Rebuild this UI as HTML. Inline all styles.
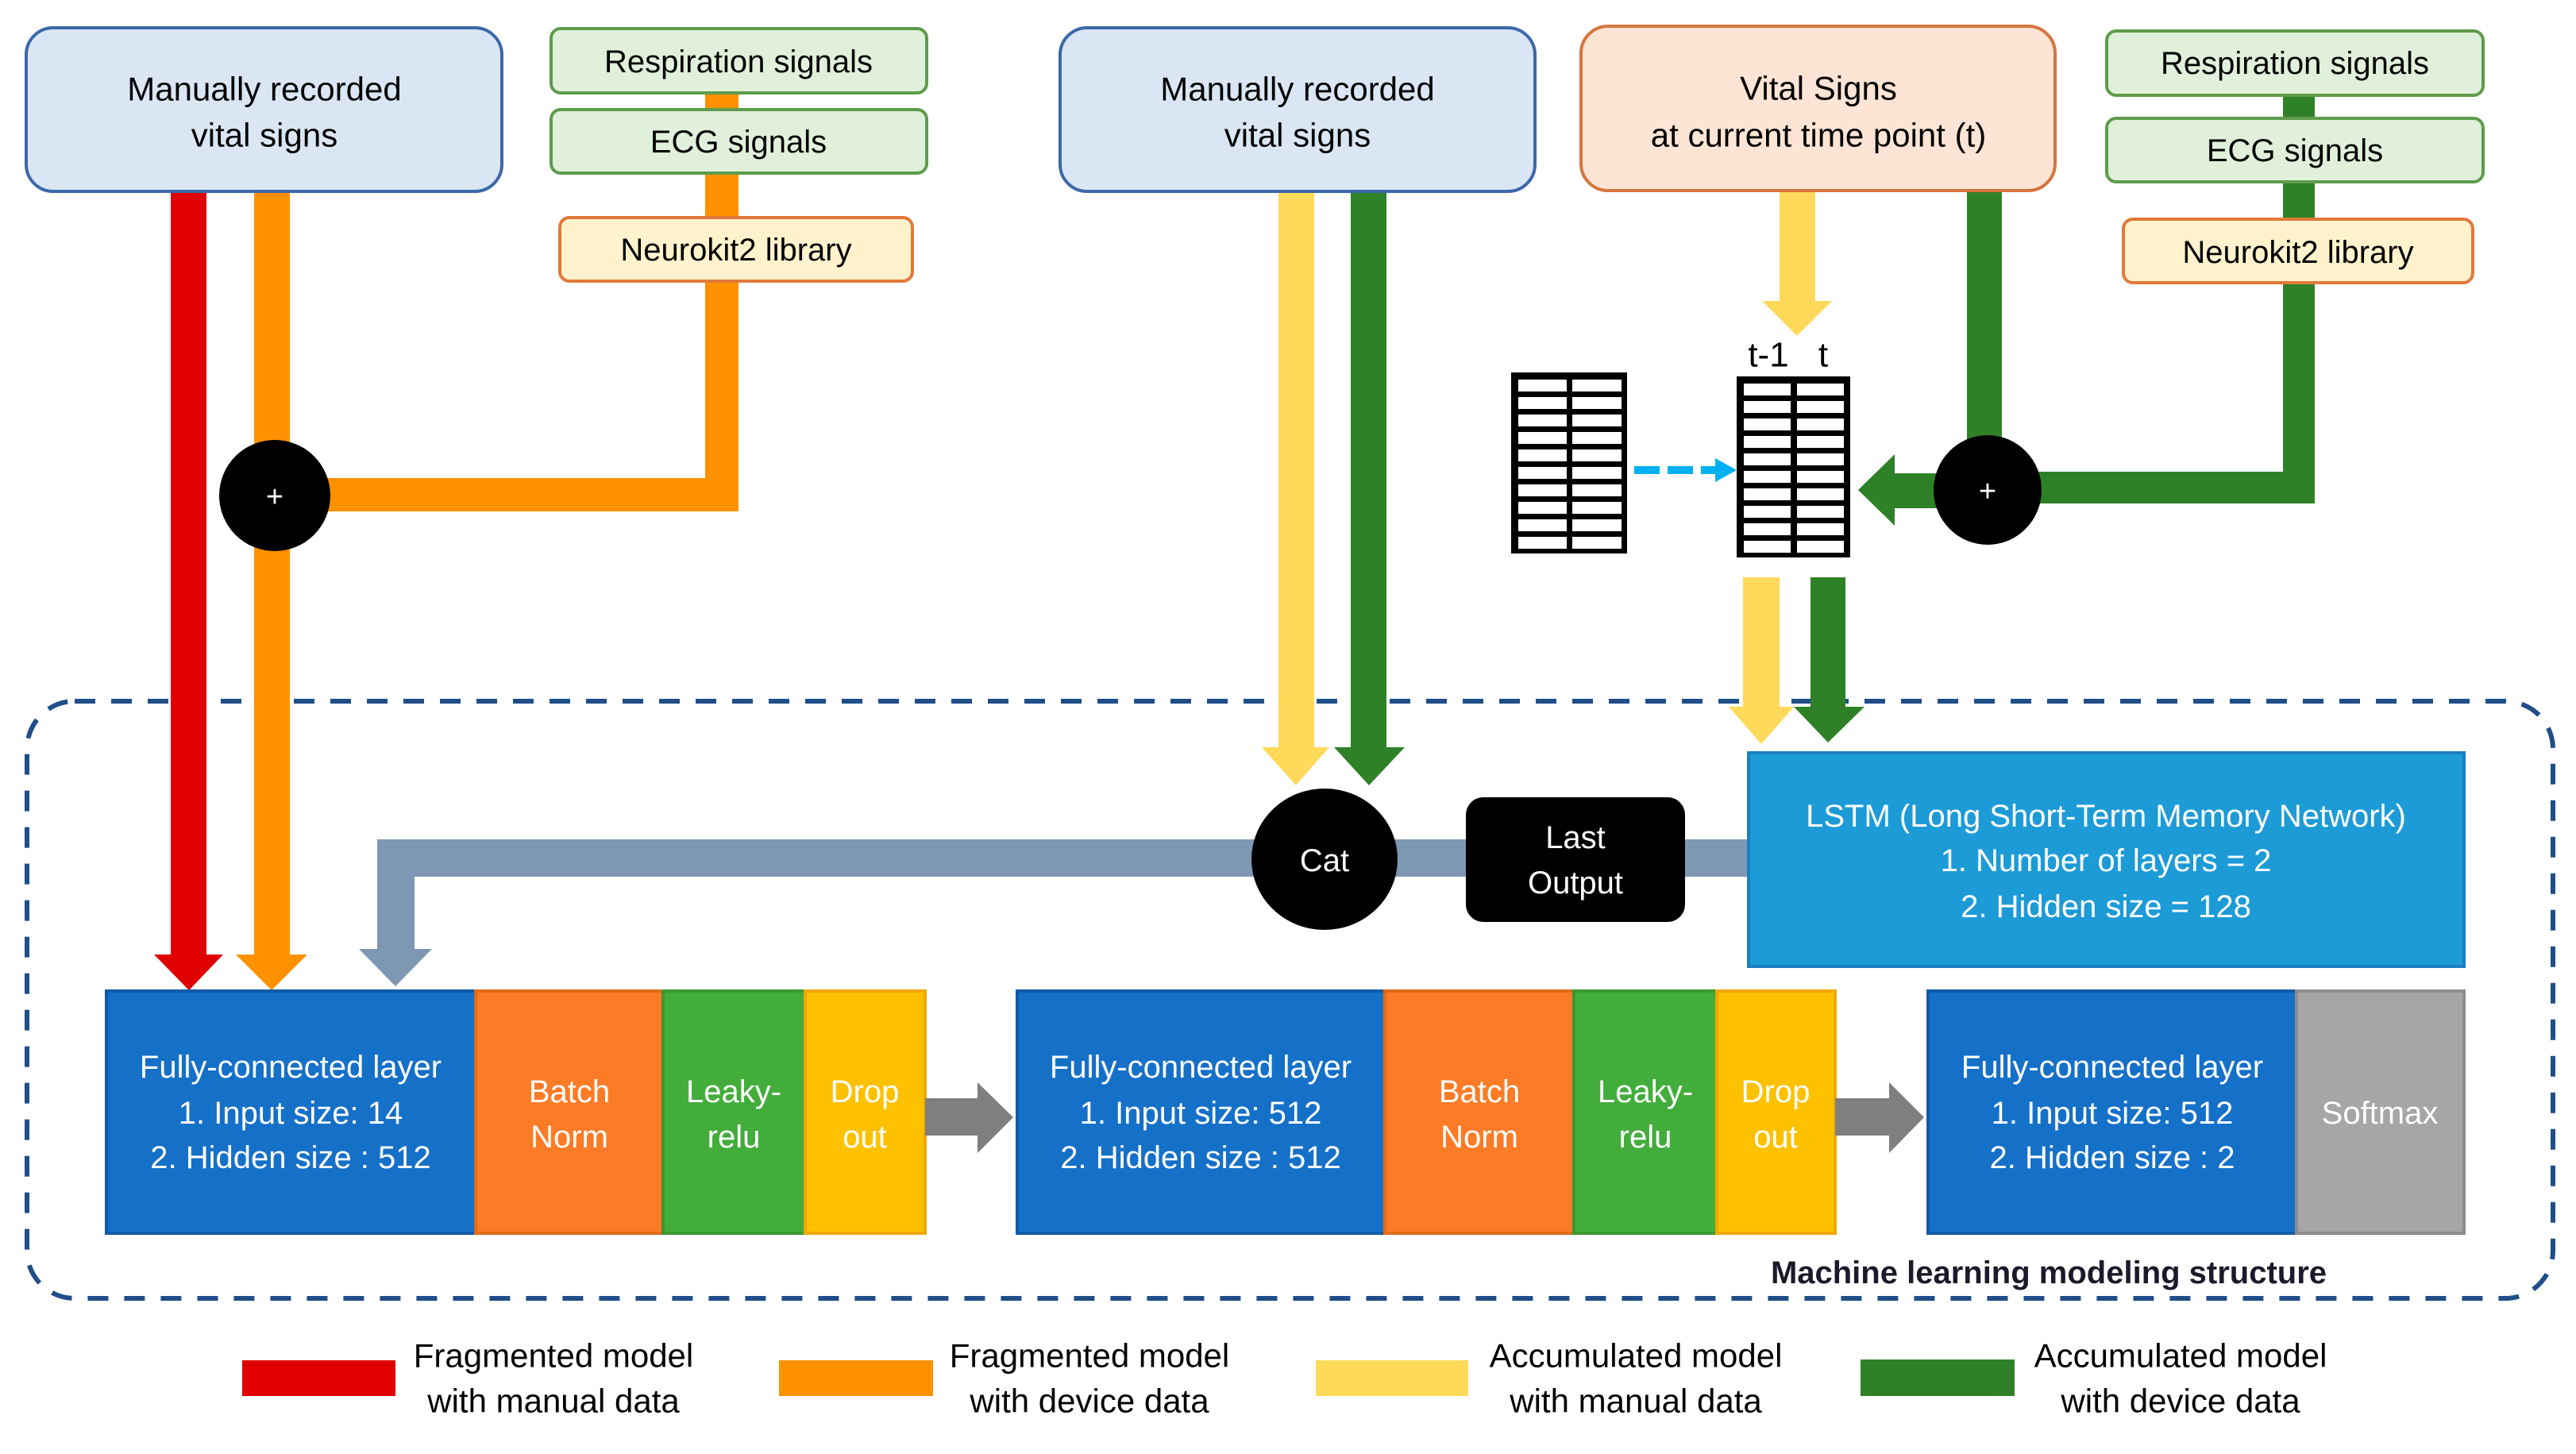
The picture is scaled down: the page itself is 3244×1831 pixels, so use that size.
<!DOCTYPE html>
<html><head><meta charset="utf-8"><style>
html,body{margin:0;padding:0;background:#fff;}
svg{display:block;}
text{font-family:"Liberation Sans",sans-serif;}
</style></head><body>
<svg width="3244" height="1831" viewBox="0 0 3244 1831" xmlns="http://www.w3.org/2000/svg">
<rect width="3244" height="1831" fill="#fff"/>

<rect x="34" y="883" width="3181" height="752" rx="60" fill="none" stroke="#1f4e89" stroke-width="6" stroke-dasharray="26 20"/>

<rect x="888" y="110" width="42" height="534" fill="#ff9100"/>
<rect x="346" y="602" width="584" height="42" fill="#ff9100"/>
<rect x="215" y="240" width="45" height="965" fill="#e00000"/>
<polygon points="194,1202 281,1202 238,1247" fill="#e00000"/>
<rect x="320" y="240" width="45" height="965" fill="#ff9100"/>
<polygon points="297,1202 387,1202 342,1247" fill="#ff9100"/>
<ellipse cx="346" cy="624" rx="70" ry="70" fill="#000"/>
<text x="346" y="626" font-size="38" fill="#fff" text-anchor="middle" dominant-baseline="central">+</text>

<rect x="33" y="35" width="599" height="206" rx="34" fill="#dae6f4" stroke="#3c69a8" stroke-width="4"/>
<text x="333" y="112" font-size="42" text-anchor="middle" dominant-baseline="central">Manually recorded</text>
<text x="333" y="170" font-size="42" text-anchor="middle" dominant-baseline="central">vital signs</text>

<rect x="694" y="36" width="473" height="81" rx="12" fill="#e0f0da" stroke="#5e9c4c" stroke-width="4"/>
<text x="930" y="78" font-size="40" text-anchor="middle" dominant-baseline="central">Respiration signals</text>
<rect x="694" y="138" width="473" height="80" rx="12" fill="#e0f0da" stroke="#5e9c4c" stroke-width="4"/>
<text x="930" y="179" font-size="40" text-anchor="middle" dominant-baseline="central">ECG signals</text>
<rect x="705" y="274" width="444" height="80" rx="12" fill="#fff2cc" stroke="#e0793a" stroke-width="4"/>
<text x="927" y="315" font-size="40" text-anchor="middle" dominant-baseline="central">Neurokit2 library</text>

<rect x="1610" y="240" width="45" height="703" fill="#ffd95a"/>
<polygon points="1589,941 1674,941 1632,989" fill="#ffd95a"/>
<rect x="1701" y="240" width="45" height="703" fill="#2f8128"/>
<polygon points="1680,941 1769,941 1724,989" fill="#2f8128"/>
<rect x="1335" y="35" width="598" height="206" rx="34" fill="#dae6f4" stroke="#3c69a8" stroke-width="4"/>
<text x="1634" y="112" font-size="42" text-anchor="middle" dominant-baseline="central">Manually recorded</text>
<text x="1634" y="170" font-size="42" text-anchor="middle" dominant-baseline="central">vital signs</text>

<rect x="2875" y="115" width="40" height="519" fill="#2f8128"/>
<rect x="2503" y="594" width="412" height="40" fill="#2f8128"/>
<rect x="2477" y="238" width="44" height="330" fill="#2f8128"/>
<rect x="2380" y="596" width="130" height="44" fill="#2f8128"/>
<polygon points="2386,572 2386,662 2340,617" fill="#2f8128"/>
<ellipse cx="2503" cy="617" rx="68" ry="69" fill="#000"/>
<text x="2503" y="619" font-size="38" fill="#fff" text-anchor="middle" dominant-baseline="central">+</text>

<rect x="2241" y="238" width="45" height="143" fill="#ffd95a"/>
<polygon points="2219,379 2307,379 2263,423" fill="#ffd95a"/>

<rect x="1991" y="33" width="597" height="207" rx="34" fill="#fde4d4" stroke="#d5753e" stroke-width="4"/>
<text x="2290" y="111" font-size="42" text-anchor="middle" dominant-baseline="central">Vital Signs</text>
<text x="2290" y="170" font-size="42" text-anchor="middle" dominant-baseline="central">at current time point (t)</text>

<rect x="2653" y="39" width="474" height="81" rx="12" fill="#e0f0da" stroke="#5e9c4c" stroke-width="4"/>
<text x="2890" y="80" font-size="40" text-anchor="middle" dominant-baseline="central">Respiration signals</text>
<rect x="2653" y="149" width="474" height="80" rx="12" fill="#e0f0da" stroke="#5e9c4c" stroke-width="4"/>
<text x="2890" y="190" font-size="40" text-anchor="middle" dominant-baseline="central">ECG signals</text>
<rect x="2674" y="276" width="440" height="80" rx="12" fill="#fff2cc" stroke="#e0793a" stroke-width="4"/>
<text x="2894" y="318" font-size="40" text-anchor="middle" dominant-baseline="central">Neurokit2 library</text>

<text x="2227" y="447" font-size="44" text-anchor="middle" dominant-baseline="central">t-1</text>
<text x="2296" y="447" font-size="44" text-anchor="middle" dominant-baseline="central">t</text>
<rect x="1903" y="469" width="146" height="228" fill="#000"/>
<g fill="#fff">
<rect x="1912" y="478" width="61" height="15"/><rect x="1980" y="478" width="62" height="15"/>
<rect x="1912" y="500" width="61" height="15"/><rect x="1980" y="500" width="62" height="15"/>
<rect x="1912" y="522" width="61" height="15"/><rect x="1980" y="522" width="62" height="15"/>
<rect x="1912" y="544" width="61" height="15"/><rect x="1980" y="544" width="62" height="15"/>
<rect x="1912" y="566" width="61" height="15"/><rect x="1980" y="566" width="62" height="15"/>
<rect x="1912" y="588" width="61" height="15"/><rect x="1980" y="588" width="62" height="15"/>
<rect x="1912" y="610" width="61" height="15"/><rect x="1980" y="610" width="62" height="15"/>
<rect x="1912" y="632" width="61" height="15"/><rect x="1980" y="632" width="62" height="15"/>
<rect x="1912" y="654" width="61" height="15"/><rect x="1980" y="654" width="62" height="15"/>
<rect x="1912" y="676" width="61" height="15"/><rect x="1980" y="676" width="62" height="15"/>
</g>
<rect x="2187" y="474" width="143" height="228" fill="#000"/>
<g fill="#fff">
<rect x="2196" y="483" width="59" height="15"/><rect x="2263" y="483" width="59" height="15"/>
<rect x="2196" y="505" width="59" height="15"/><rect x="2263" y="505" width="59" height="15"/>
<rect x="2196" y="527" width="59" height="15"/><rect x="2263" y="527" width="59" height="15"/>
<rect x="2196" y="549" width="59" height="15"/><rect x="2263" y="549" width="59" height="15"/>
<rect x="2196" y="571" width="59" height="15"/><rect x="2263" y="571" width="59" height="15"/>
<rect x="2196" y="593" width="59" height="15"/><rect x="2263" y="593" width="59" height="15"/>
<rect x="2196" y="615" width="59" height="15"/><rect x="2263" y="615" width="59" height="15"/>
<rect x="2196" y="637" width="59" height="15"/><rect x="2263" y="637" width="59" height="15"/>
<rect x="2196" y="659" width="59" height="15"/><rect x="2263" y="659" width="59" height="15"/>
<rect x="2196" y="681" width="59" height="15"/><rect x="2263" y="681" width="59" height="15"/>
</g>
<line x1="2058" y1="592" x2="2160" y2="592" stroke="#00b0f0" stroke-width="10" stroke-dasharray="32 10"/>
<polygon points="2160,577 2160,607 2187,592" fill="#00b0f0"/>

<rect x="2195" y="727" width="46" height="165" fill="#ffd95a"/>
<polygon points="2177,890 2259,890 2218,937" fill="#ffd95a"/>
<rect x="2280" y="727" width="44" height="165" fill="#2f8128"/>
<polygon points="2259,890 2348,890 2302,935" fill="#2f8128"/>

<rect x="475" y="1057" width="1750" height="47" fill="#7e98b4"/>
<rect x="475" y="1057" width="47" height="140" fill="#7e98b4"/>
<polygon points="452,1195 544,1195 498,1242" fill="#7e98b4"/>

<ellipse cx="1668" cy="1082" rx="92" ry="89" fill="#000"/>
<text x="1668" y="1084" font-size="40" fill="#fff" text-anchor="middle" dominant-baseline="central">Cat</text>
<rect x="1846" y="1004" width="276" height="157" rx="22" fill="#000"/>
<text x="1984" y="1055" font-size="40" fill="#fff" text-anchor="middle" dominant-baseline="central">Last</text>
<text x="1984" y="1112" font-size="40" fill="#fff" text-anchor="middle" dominant-baseline="central">Output</text>

<rect x="2202" y="948" width="901" height="269" fill="#1d9bd7" stroke="#1a7fc0" stroke-width="4"/>
<text x="2652" y="1028" font-size="40" fill="#fff" text-anchor="middle" dominant-baseline="central">LSTM (Long Short-Term Memory Network)</text>
<text x="2652" y="1084" font-size="40" fill="#fff" text-anchor="middle" dominant-baseline="central">1.  Number of layers = 2</text>
<text x="2652" y="1142" font-size="40" fill="#fff" text-anchor="middle" dominant-baseline="central">2.  Hidden size = 128</text>

<rect x="134" y="1248" width="465" height="305" fill="#1570c8" stroke="#0f5aa8" stroke-width="4"/>
<rect x="599" y="1248" width="236" height="305" fill="#fc7b26" stroke="#e06a18" stroke-width="4"/>
<rect x="835" y="1248" width="179" height="305" fill="#43ad3b" stroke="#3a9832" stroke-width="4"/>
<rect x="1014" y="1248" width="151" height="305" fill="#fdc100" stroke="#f0a800" stroke-width="4"/>
<text x="366" y="1344" font-size="40" fill="#fff" text-anchor="middle" dominant-baseline="central">Fully-connected layer</text>
<text x="366" y="1402" font-size="40" fill="#fff" text-anchor="middle" dominant-baseline="central">1.  Input size: 14</text>
<text x="366" y="1458" font-size="40" fill="#fff" text-anchor="middle" dominant-baseline="central">2.  Hidden size : 512</text>
<text x="717" y="1375" font-size="40" fill="#fff" text-anchor="middle" dominant-baseline="central">Batch</text>
<text x="717" y="1432" font-size="40" fill="#fff" text-anchor="middle" dominant-baseline="central">Norm</text>
<text x="924" y="1375" font-size="40" fill="#fff" text-anchor="middle" dominant-baseline="central">Leaky-</text>
<text x="924" y="1432" font-size="40" fill="#fff" text-anchor="middle" dominant-baseline="central">relu</text>
<text x="1089" y="1375" font-size="40" fill="#fff" text-anchor="middle" dominant-baseline="central">Drop</text>
<text x="1089" y="1432" font-size="40" fill="#fff" text-anchor="middle" dominant-baseline="central">out</text>
<rect x="1165" y="1383" width="68" height="47" fill="#7f7f7f"/>
<polygon points="1231,1363 1231,1452 1276,1407" fill="#7f7f7f"/>

<rect x="1281" y="1248" width="463" height="305" fill="#1570c8" stroke="#0f5aa8" stroke-width="4"/>
<rect x="1744" y="1248" width="238" height="305" fill="#fc7b26" stroke="#e06a18" stroke-width="4"/>
<rect x="1982" y="1248" width="180" height="305" fill="#43ad3b" stroke="#3a9832" stroke-width="4"/>
<rect x="2162" y="1248" width="149" height="305" fill="#fdc100" stroke="#f0a800" stroke-width="4"/>
<text x="1512" y="1344" font-size="40" fill="#fff" text-anchor="middle" dominant-baseline="central">Fully-connected layer</text>
<text x="1512" y="1402" font-size="40" fill="#fff" text-anchor="middle" dominant-baseline="central">1.  Input size: 512</text>
<text x="1512" y="1458" font-size="40" fill="#fff" text-anchor="middle" dominant-baseline="central">2.  Hidden size : 512</text>
<text x="1863" y="1375" font-size="40" fill="#fff" text-anchor="middle" dominant-baseline="central">Batch</text>
<text x="1863" y="1432" font-size="40" fill="#fff" text-anchor="middle" dominant-baseline="central">Norm</text>
<text x="2072" y="1375" font-size="40" fill="#fff" text-anchor="middle" dominant-baseline="central">Leaky-</text>
<text x="2072" y="1432" font-size="40" fill="#fff" text-anchor="middle" dominant-baseline="central">relu</text>
<text x="2236" y="1375" font-size="40" fill="#fff" text-anchor="middle" dominant-baseline="central">Drop</text>
<text x="2236" y="1432" font-size="40" fill="#fff" text-anchor="middle" dominant-baseline="central">out</text>
<rect x="2311" y="1383" width="70" height="47" fill="#7f7f7f"/>
<polygon points="2379,1363 2379,1452 2423,1407" fill="#7f7f7f"/>

<rect x="2428" y="1248" width="464" height="305" fill="#1570c8" stroke="#0f5aa8" stroke-width="4"/>
<rect x="2892" y="1248" width="211" height="305" fill="#a6a6a6" stroke="#8c8c8c" stroke-width="4"/>
<text x="2660" y="1344" font-size="40" fill="#fff" text-anchor="middle" dominant-baseline="central">Fully-connected layer</text>
<text x="2660" y="1402" font-size="40" fill="#fff" text-anchor="middle" dominant-baseline="central">1.  Input size: 512</text>
<text x="2660" y="1458" font-size="40" fill="#fff" text-anchor="middle" dominant-baseline="central">2.  Hidden size : 2</text>
<text x="2997" y="1402" font-size="40" fill="#fff" text-anchor="middle" dominant-baseline="central">Softmax</text>

<text x="2580" y="1603" font-size="40" font-weight="bold" fill="#1a1a2a" text-anchor="middle" dominant-baseline="central">Machine learning modeling structure</text>

<rect x="305" y="1713" width="193" height="45" fill="#e00000"/>
<text x="697" y="1707" font-size="42" text-anchor="middle" dominant-baseline="central">Fragmented model</text>
<text x="697" y="1764" font-size="42" text-anchor="middle" dominant-baseline="central">with manual data</text>
<rect x="981" y="1713" width="194" height="45" fill="#ff9100"/>
<text x="1372" y="1707" font-size="42" text-anchor="middle" dominant-baseline="central">Fragmented model</text>
<text x="1372" y="1764" font-size="42" text-anchor="middle" dominant-baseline="central">with device data</text>
<rect x="1657" y="1713" width="192" height="45" fill="#ffd95a"/>
<text x="2060" y="1707" font-size="42" text-anchor="middle" dominant-baseline="central">Accumulated model</text>
<text x="2060" y="1764" font-size="42" text-anchor="middle" dominant-baseline="central">with manual data</text>
<rect x="2343" y="1712" width="194" height="46" fill="#2f8128"/>
<text x="2746" y="1707" font-size="42" text-anchor="middle" dominant-baseline="central">Accumulated model</text>
<text x="2746" y="1764" font-size="42" text-anchor="middle" dominant-baseline="central">with device data</text>
</svg>
</body></html>
